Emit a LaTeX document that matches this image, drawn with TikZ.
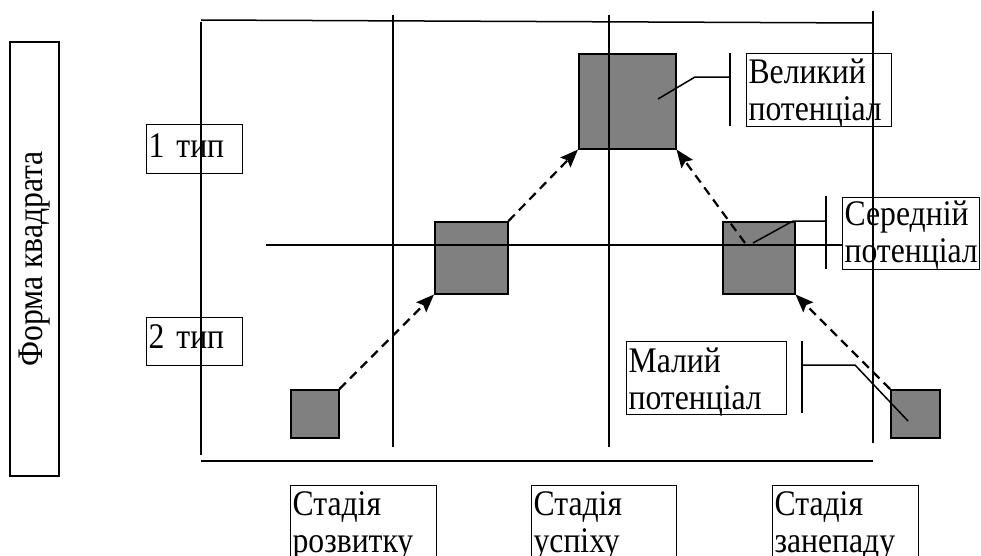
\documentclass[tikz,border=0pt]{standalone}
\usepackage{fontspec}
\setmainfont{Liberation Serif}[FakeStretch = 0.88]
\usetikzlibrary{arrows.meta}

\tikzset{
	sq/.style = {draw = black, fill = black!50, line width = 1.5pt, anchor = north west, inner sep = 0pt},
	txtbox/.style = {draw = black, line width = 1.2pt, anchor = north west, align = left, inner xsep = 2pt, inner ysep = 0pt},
	flow/.style = {line width = 2.2pt, dash pattern = on 9pt off 6pt, -{Stealth[length = 18pt, width = 14pt, inset = 3pt]}}
}

\begin{document}
\begin{tikzpicture}[x = 1pt, y = -1pt, font = \fontsize{36}{37}\selectfont]

	\useasboundingbox (0, 0) rectangle (981, 555);
	\clip (0, 0) rectangle (981, 555);

	% Squares
	
	\node [sq, minimum width = 48pt, minimum height = 48pt] (sq1) at (290, 389) {};
	\node [sq, minimum width = 73pt, minimum height = 72pt] (sq2) at (434, 221) {};
	\node [sq, minimum width = 97pt, minimum height = 95pt] (sqBig) at (578, 53) {};
	\node [sq, minimum width = 72pt, minimum height = 72pt] (sq3) at (722, 221) {};
	\node [sq, minimum width = 49pt, minimum height = 48pt] (sq4) at (890, 389) {};
	
	\coordinate (sq3in) at (745, 243);
	
	% Text boxes
	
	\node [draw = black, line width = 1.2pt, rotate = 90, minimum width = 434pt, minimum height = 49pt, inner sep = 0pt] (form) at (34.5, 259) {Форма квадрата};
	
	\node [txtbox, text width = 92pt, text height = 33pt, text depth = 16pt] (type1) at (146, 124) {1 тип};
	\node [txtbox, text width = 92pt, text height = 31pt, text depth = 17pt] (type2) at (146, 317) {2 тип};
	
	\node [txtbox, text width = 141pt, text height = 30pt, text depth = 43pt] (bigLbl) at (746, 53) {Великий\\потенціал};
	\node [txtbox, text width = 133pt, text height = 28pt, text depth = 44pt] (midLbl) at (842, 197) {Середній\\потенціал};
	\node [txtbox, text width = 156pt, text height = 31pt, text depth = 42pt] (smallLbl) at (626, 341) {Малий\\потенціал};
	
	\node [txtbox, text width = 142pt, text height = 30pt, text depth = 50pt] (stage1) at (290, 485) {Стадія\\розвитку};
	\node [txtbox, text width = 141pt, text height = 30pt, text depth = 50pt] (stage2) at (531, 485) {Стадія\\успіху};
	\node [txtbox, text width = 142pt, text height = 30pt, text depth = 50pt] (stage3) at (772, 485) {Стадія\\занепаду};
	
	% Grid lines
	
	\begin{scope}[line width = 1.5pt]
	
		\draw (201, 20) -- (873, 23);
		\draw (201, 22) -- (201, 455);
		\draw (201, 461) -- (873, 461);
		\draw (393, 15) -- (393, 447);
		\draw (609, 15) -- (609, 447);
		\draw (873, 11) -- (873, 443);
		\draw (266, 245) -- (842, 245);
	
	\end{scope}
	
	% Callouts
	
	\begin{scope}[line width = 1.5pt]
	
		\draw (658, 99) -- (695, 77) -- (730, 77);
		\draw (730, 53) -- (730, 126);
		\draw (753, 243) -- (793, 221) -- (826, 221);
		\draw (826, 196) -- (826, 269);
		\draw (802, 341) -- (802, 413);
		\draw (802, 365) -- (855, 365) -- (908, 421);
	
	\end{scope}
	
	% Transitions
	
	\draw [flow] (sq1.north east) -- (sq2.south west);
	\draw [flow] (sq2.north east) -- (sqBig.south west);
	\draw [flow] (sq3in) -- (sqBig.south east);
	\draw [flow] (sq4.north west) -- (sq3.south east);

\end{tikzpicture}
\end{document}
